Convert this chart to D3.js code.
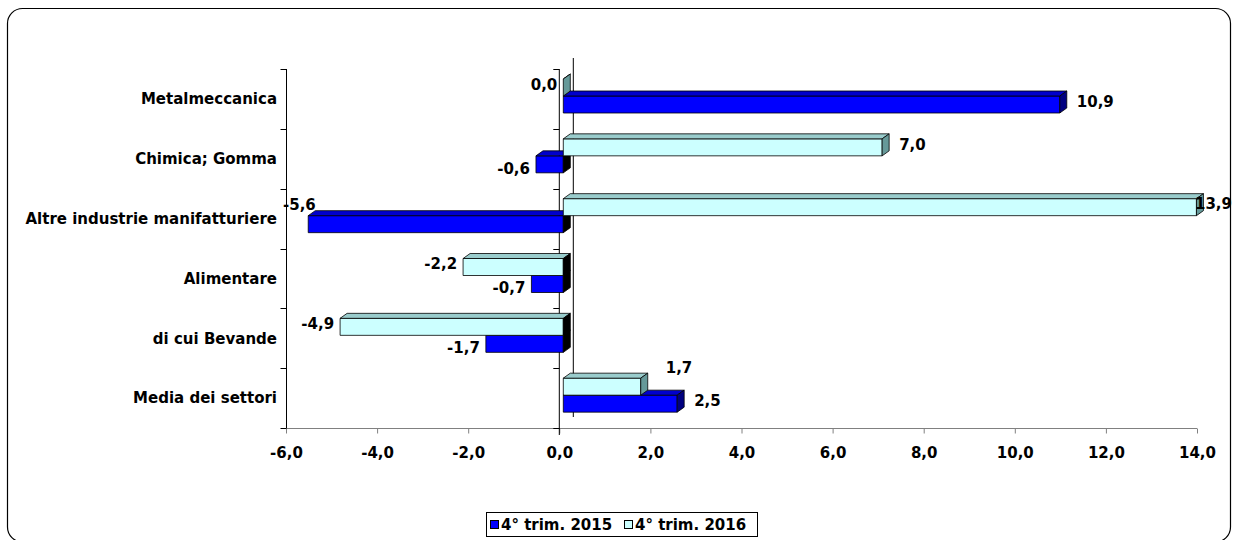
<!DOCTYPE html>
<html>
<head>
<meta charset="utf-8">
<script src="https://cdn.jsdelivr.net/npm/d3@7"></script>
<style>
  body { margin: 0; background: #fff; }
  text { font-family: "DejaVu Sans", sans-serif; font-weight: bold; font-size: 15px; fill: #000; }
</style>
</head>
<body>
<svg id="chart" width="1237" height="540"></svg>
<script>
var categories = ['Metalmeccanica', 'Chimica; Gomma', 'Altre industrie manifatturiere',
  'Alimentare', 'di cui Bevande', 'Media dei settori'];
var values2015 = [10.9, -0.6, -5.6, -0.7, -1.7, 2.5];
var values2016 = [0.0, 7.0, 13.9, -2.2, -4.9, 1.7];
var xTicks = [-6, -4, -2, 0, 2, 4, 6, 8, 10, 12, 14];
var seriesNames = ['4° trim. 2015', '4° trim. 2016'];

var svg = d3.select('#chart');
var fmt = function (v) { return d3.format('.1f')(v).replace('.', ',').replace('−', '-'); };

// 3d look: bar depth and offset of the bars from the front plane
var dx = 7, dy = -5, offX = 4;
var barH = 17;

var styles = [
  { front: '#0000ff', top: '#0000cc', side: '#000080' },
  { front: '#ccffff', top: '#99cccc', side: '#669999' }
];

// outer frame
svg.append('rect')
  .attr('x', 7.5).attr('y', 8.5).attr('width', 1223).attr('height', 533.5)
  .attr('rx', 15).attr('fill', '#fff').attr('stroke', '#000').attr('stroke-width', 1.2);

var x = d3.scaleLinear().domain([-6, 14]).range([286, 1197]);
var y = d3.scaleBand().domain(categories).range([69, 428]);
var inner = d3.scaleBand().domain([1, 0]).range([10, 10 + 2 * barH]);

// back wall zero line
svg.append('line')
  .attr('x1', x(0) + 14).attr('x2', x(0) + 14)
  .attr('y1', y.range()[0] - 11).attr('y2', y.range()[1] - 11)
  .attr('stroke', '#000');

// bottom value axis
var xAxis = svg.append('g').attr('transform', 'translate(0,428.5)')
  .call(d3.axisBottom(x).tickValues(xTicks).tickSize(5).tickPadding(14).tickFormat(fmt));
xAxis.select('.domain').attr('stroke', '#808080').attr('d', 'M286,0H1197');
xAxis.selectAll('.tick line').attr('stroke', '#808080');
xAxis.selectAll('text').style('font-size', '15px').style('font-family', '"DejaVu Sans", sans-serif');

// category axes (left edge and zero line)
var bounds = categories.map(function (c) { return y(c); }).concat([y.range()[1]]);
[{ px: 286.5, bottom: 428 }, { px: x(0), bottom: 435 }].forEach(function (a) {
  var g = svg.append('g');
  g.append('line').attr('x1', a.px).attr('x2', a.px)
    .attr('y1', 69).attr('y2', a.bottom).attr('stroke', '#000');
  g.selectAll('line.tk').data(bounds).enter().append('line')
    .attr('class', 'tk')
    .attr('x1', a.px - 6).attr('x2', a.px)
    .attr('y1', function (d) { return Math.round(d) + 0.5; })
    .attr('y2', function (d) { return Math.round(d) + 0.5; })
    .attr('stroke', '#000');
});

// category labels
svg.selectAll('text.cat').data(categories).enter().append('text')
  .attr('class', 'cat')
  .attr('x', 277)
  .attr('y', function (d) { return y(d) + y.bandwidth() / 2; })
  .attr('dy', '0.35em')
  .attr('text-anchor', 'end')
  .text(function (d) { return d; });

// bars, bottom category first, blue under cyan
var bars = [];
categories.forEach(function (c, i) {
  bars.push({ cat: c, s: 0, v: values2015[i], other: values2016[i] });
  bars.push({ cat: c, s: 1, v: values2016[i], other: values2015[i] });
});
bars.sort(function (a, b) { return categories.indexOf(b.cat) - categories.indexOf(a.cat) || a.s - b.s; });

var barG = svg.append('g');
bars.forEach(function (b) {
  var x0 = x(Math.min(0, b.v)) + offX, x1 = x(Math.max(0, b.v)) + offX;
  var yt = y(b.cat) + inner(b.s);
  var st = styles[b.s];
  var g = barG.append('g').attr('stroke', '#000').attr('stroke-width', 0.8).attr('stroke-linejoin', 'round');
  g.append('rect').attr('x', x0).attr('y', yt).attr('width', x1 - x0).attr('height', barH)
    .attr('fill', st.front);
  g.append('polygon')
    .attr('points', [[x0, yt], [x0 + dx, yt + dy], [x1 + dx, yt + dy], [x1, yt]].join(' '))
    .attr('fill', st.top);
  g.append('polygon')
    .attr('points', [[x1, yt], [x1 + dx, yt + dy], [x1 + dx, yt + barH + dy], [x1, yt + barH]].join(' '))
    .attr('fill', b.v < 0 ? '#000' : st.side);
  b.x0 = x0; b.x1 = x1; b.yt = yt;
});

// value labels
bars.forEach(function (b) {
  var t = svg.append('text').text(fmt(b.v)).attr('dy', '0.35em');
  var w = t.node().getComputedTextLength();
  var cy = b.yt + barH / 2 + (b.s === 1 ? -3 : (b.v > 0 ? -3 : 4));
  var lx;
  if (b.v > 0) {
    lx = Math.min(b.x1 + 17, 1232 - w);
    // upper bar shorter than the one below: lift its label clear of it
    if (b.s === 1 && b.other > b.v) { cy = b.yt - 10; lx = b.x1 + 25; }
  } else {
    lx = b.x0 - 6 - w;
    if (lx < 286) { lx = 283; cy = b.yt - 11; }
  }
  t.attr('x', lx).attr('y', cy);
});

// legend
var leg = svg.append('g');
leg.append('rect').attr('x', 486.5).attr('y', 512.5).attr('width', 271).attr('height', 24)
  .attr('fill', '#fff').attr('stroke', '#000');
var lx = [490, 624];
seriesNames.forEach(function (n, i) {
  leg.append('rect').attr('x', lx[i] + 0.5).attr('y', 520.5).attr('width', 8).attr('height', 8)
    .attr('fill', styles[i].front).attr('stroke', '#000');
  leg.append('text').attr('x', lx[i] + 11).attr('y', 525).attr('dy', '0.35em').text(n);
});
</script>
</body>
</html>
